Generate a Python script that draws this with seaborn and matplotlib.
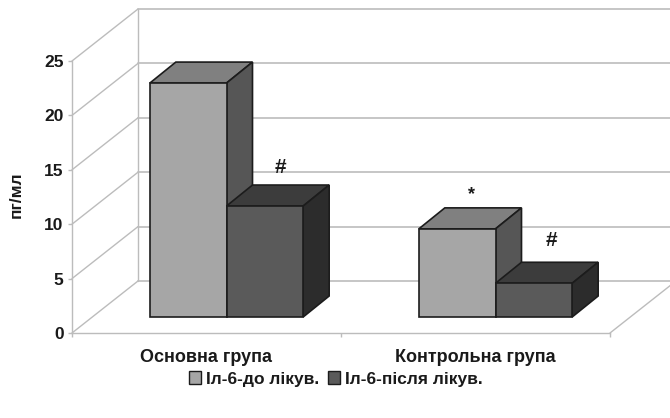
import pandas as pd
import matplotlib
matplotlib.use("Agg")
import matplotlib.pyplot as plt
import matplotlib.transforms as mtransforms
import seaborn as sns

# Values
groups = ["Основна група", "Контрольна група"]
before = [21.5, 8.1]
after = [10.2, 3.1]
series_names = ["Іл-6-до лікув.", "Іл-6-після лікув."]
y_ticks = [0, 5, 10, 15, 20, 25]
marks = ["", "#", "*", "#"]

# front, top and side shades for the two series
front_colors = ["#a6a6a6", "#5a5a5a"]
top_colors = ["#808080", "#3c3c3c"]
side_colors = ["#565656", "#2c2c2c"]
edge = "#1c1c1c"
grid = "#bcbcbc"
text_color = "#1a1a1a"

sns.set_style("white")
plt.rcParams["font.family"] = ["Liberation Sans", "DejaVu Sans"]
plt.rcParams["font.weight"] = "bold"

df = pd.DataFrame({
    "group": groups * 2,
    "value": before + after,
    "series": [series_names[0]] * 2 + [series_names[1]] * 2,
})

fig = plt.figure(figsize=(6.7, 4.18), dpi=100)
ax = fig.add_axes([72 / 670, (418 - 333) / 418, 538 / 670, 272 / 418])

sns.barplot(data=df, x="group", y="value", hue="series", palette=front_colors,
            width=0.57, saturation=1, edgecolor=edge, linewidth=1.2, ax=ax)
ax.set_xlim(-0.5, 1.5)
ax.set_ylim(0, 25)
ax.set_yticks(y_ticks)


def shift(px, py):
    return ax.transData + mtransforms.ScaledTranslation(px / 100, py / 100, fig.dpi_scale_trans)


# back wall and floor of the 3D box
wall = shift(66, 52)
for v in y_ticks:
    ax.plot([-0.5, -0.5], [v, v], color=grid, lw=1, clip_on=False, zorder=0)
    # slanted part on the left side wall
    ax.annotate("", xy=(-0.5, v), xycoords=wall, xytext=(-0.5, v), textcoords=ax.transData,
                arrowprops=dict(arrowstyle="-", color=grid, lw=1, shrinkA=0, shrinkB=0), zorder=0)
    ax.plot([-0.5, 1.6], [v, v], color=grid, lw=1.2, clip_on=False, zorder=0, transform=wall)
ax.plot([-0.5, -0.5], [0, 25], color=grid, lw=1, clip_on=False, zorder=0, transform=wall)
ax.annotate("", xy=(1.5, 0), xycoords=wall, xytext=(1.5, 0), textcoords=ax.transData,
            arrowprops=dict(arrowstyle="-", color=grid, lw=1, shrinkA=0, shrinkB=0), zorder=0)

# bars stand inside the floor, the depth faces are built from each bar
bar_shift = shift(20, 16)
depth_x = 26 / 269
depth_y = 21 / 10.88
bars = sorted(ax.patches, key=lambda p: p.get_x())
bars = [b for b in bars if b.get_height() > 0]
for i, bar in enumerate(bars):
    s = i % 2
    x0, x1 = bar.get_x(), bar.get_x() + bar.get_width()
    h = bar.get_height()
    z = 3 + i
    bar.set_transform(bar_shift)
    bar.set_zorder(z + 0.5)
    bar.set_clip_on(False)
    ax.fill([x0, x0 + depth_x, x1 + depth_x, x1], [h, h + depth_y, h + depth_y, h],
            facecolor=top_colors[s], edgecolor=edge, lw=1.2, transform=bar_shift,
            zorder=z, clip_on=False)
    ax.fill([x1, x1 + depth_x, x1 + depth_x, x1], [0, depth_y, h + depth_y, h],
            facecolor=side_colors[s], edgecolor=edge, lw=1.2, transform=bar_shift,
            zorder=z, clip_on=False)

# significance marks above the bars
offsets = [(0, 0), (16, 39), (14, 34), (18, 43)]
for bar, mark, off in zip(bars, marks, offsets):
    if mark:
        ax.annotate(mark, xy=(bar.get_x() + bar.get_width() / 2, bar.get_height()),
                    xycoords=bar_shift, xytext=(off[0] * 0.72, off[1] * 0.72),
                    textcoords="offset points", ha="center", va="center",
                    fontsize=15 if mark == "#" else 13, color=text_color, zorder=20)

# axes furniture
sns.despine(ax=ax, top=True, right=True)
for side in ["left", "bottom"]:
    ax.spines[side].set_color(grid)
    ax.spines[side].set_linewidth(1)
ax.set_xlabel("")
ax.set_ylabel("пг/мл", fontsize=12.5, color=text_color, fontweight="bold")
ax.yaxis.set_label_coords((24 - 72) / 538, (333 - 195) / 272)
ax.tick_params(axis="y", left=True, length=3, width=1, color=grid, pad=3,
               labelsize=12.5, labelcolor=text_color)
ax.tick_params(axis="x", bottom=False, pad=8, labelsize=13, labelcolor=text_color)
ax.set_xticks([-0.5, 0.5, 1.5], minor=True)
ax.tick_params(axis="x", which="minor", bottom=True, length=3, width=1, color=grid)

leg = ax.legend(loc="center", bbox_to_anchor=(336 / 670, (418 - 379) / 418),
                bbox_transform=fig.transFigure, ncol=2, frameon=False, fontsize=12.5,
                handlelength=0.7, handleheight=0.7, handletextpad=0.3, columnspacing=0.5,
                labelcolor=text_color)
for handle in leg.get_patches():
    handle.set_edgecolor(edge)
    handle.set_linewidth(1)

fig.savefig("out.png", dpi=100)
